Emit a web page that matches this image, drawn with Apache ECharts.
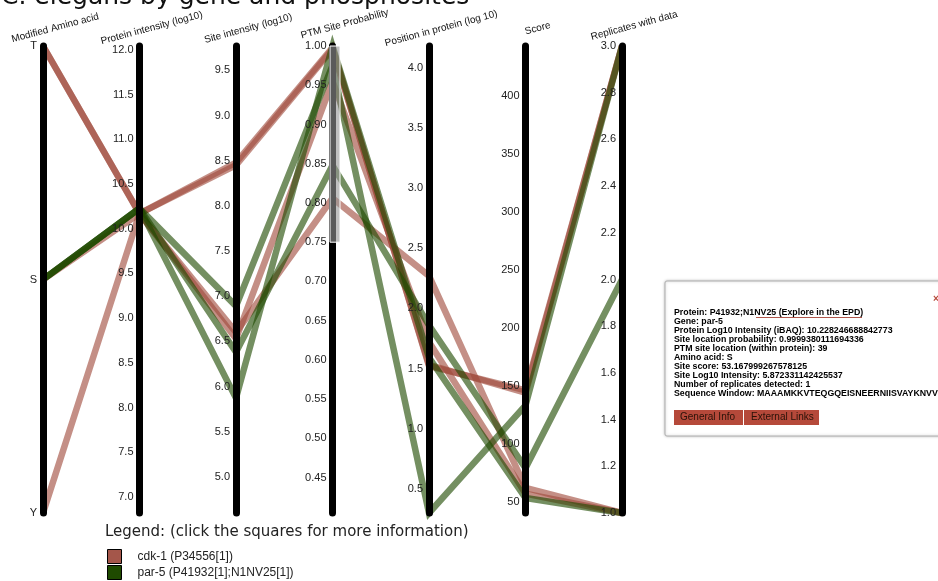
<!DOCTYPE html>
<html>
<head>
<meta charset="utf-8">
<script src="https://cdn.jsdelivr.net/npm/echarts@6/dist/echarts.min.js"></script>
<style>
  html, body { margin: 0; padding: 0; background: #fff; }
  #chart { width: 938px; height: 581px; }
</style>
</head>
<body>
<div id="chart"></div>
<script>
var dimNames = ['Modified Amino acid', 'Protein intensity (log10)', 'Site intensity (log10)',
  'PTM Site Probability', 'Position in protein (log 10)', 'Score', 'Replicates with data'];
var aminoAcids = ['Y', 'S', 'T'];
var seriesNames = ['cdk-1 (P34556[1])', 'par-5 (P41932[1];N1NV25[1])'];

// amino acid, protein int, site int, probability, position, score, replicates
var cdk1Sites = [
  ['T', 10.17, 8.48, 0.998, 1.52, 146, 3],
  ['T', 10.17, 8.45, 0.996, 1.53, 144, 3],
  ['S', 10.17, 6.53, 0.955, 1.72, 57, 1],
  ['Y', 10.17, 6.60, 0.806, 2.27, 62, 1]
];
var par5Sites = [
  ['S', 10.228, 5.872, 0.99994, 1.591, 53.17, 1],
  ['S', 10.228, 6.89, 0.975, 0.30, 133, 3],
  ['S', 10.228, 6.38, 0.848, 1.86, 79, 2]
];

var axisMin = [null, 6.82, 4.60, 0.405, 0.30, 40.3, 1];
var axisMax = [null, 12.045, 9.77, 1.0, 4.18, 442.8, 3];
var axisSplit = [null, 10, 10, 12, 8, 8, 10];
var axisDecimals = [0, 1, 1, 2, 1, 0, 1];
// brushed interval on the probability axis
var brushAxis = 3;
var brushRange = [0.75, 1.0];

var infoLines = [
  ['Protein: ', 'P41932;N1NV25', ' (Explore in the EPD)'],
  ['Gene: ', 'par-5'],
  ['Protein Log10 Intensity (iBAQ): ', '10.228246688842773'],
  ['Site location probability: ', '0.9999380111694336'],
  ['PTM site location (within protein): ', '39'],
  ['Amino acid: ', 'S'],
  ['Site score: ', '53.167999267578125'],
  ['Site Log10 Intensity: ', '5.872331142425537'],
  ['Number of replicates detected: ', '1'],
  ['Sequence Window: ', 'MAAAMKKVTEQGQEISNEERNIISVAYKNVVGSRRASWRIISS']
];

var plotLeft = 43, plotTop = 46, plotWidth = 579, plotHeight = 467;

var chart = echarts.init(document.getElementById('chart'));

var axes = dimNames.map(function (name, i) {
  var ax = {
    dim: i,
    name: name,
    nameLocation: 'end',
    nameGap: 9,
    nameRotate: 15,
    nameTruncate: { maxWidth: 300 },
    nameTextStyle: {
      fontSize: 10, color: '#111', fontFamily: 'Liberation Sans',
      align: 'center', verticalAlign: 'bottom', padding: [0, 0, 0, 28]
    },
    axisLine: { lineStyle: { color: '#000', width: 7 } },
    axisTick: { show: false },
    axisLabel: {
      fontSize: 11, color: '#222', fontFamily: 'Liberation Sans',
      margin: -6, align: 'right'
    }
  };
  if (i === 0) {
    ax.type = 'category';
    ax.data = aminoAcids;
    ax.boundaryGap = false;
  } else {
    ax.type = 'value';
    ax.min = axisMin[i];
    ax.max = axisMax[i];
    ax.splitNumber = axisSplit[i];
    ax.axisLabel.formatter = function (v) { return v.toFixed(axisDecimals[i]); };
    ax.axisLabel.showMinLabel = (i === 6);
    ax.axisLabel.showMaxLabel = (i === 3 || i === 6);
  }
  return ax;
});

// brush extent, mapped through the same axis range
function axisY(i, v) {
  return plotTop + plotHeight * (axisMax[i] - v) / (axisMax[i] - axisMin[i]);
}
var brushX = plotLeft + brushAxis * plotWidth / (dimNames.length - 1);
var brushTop = axisY(brushAxis, brushRange[1]);
var brushBottom = axisY(brushAxis, brushRange[0]);

var infoRich = {
  k: { fontSize: 8.8, fontWeight: 'bold', fontFamily: 'Liberation Sans', color: '#111', lineHeight: 9 },
  v: { fontSize: 8.8, fontWeight: 'bold', fontFamily: 'Liberation Sans', color: '#2f6b12', lineHeight: 9 },
  l: { fontSize: 8.8, fontWeight: 'bold', fontFamily: 'Liberation Sans', color: '#b0574c', lineHeight: 9 }
};
var infoText = infoLines.map(function (p) {
  var s = '{k|' + p[0] + '}{v|' + p[1] + '}';
  if (p[2]) s += '{l|' + p[2] + '}';
  return s;
}).join('\n');

var option = {
  animation: false,
  title: {
    text: 'C. elegans by gene and phosphosites',
    left: -4, top: -20,
    textStyle: { fontSize: 25, fontWeight: 'normal', fontFamily: 'DejaVu Sans', color: '#111' }
  },
  legend: {
    orient: 'vertical',
    left: 107, top: 549,
    padding: 0,
    itemWidth: 14, itemHeight: 14, itemGap: 1,
    icon: 'rect',
    selectedMode: false,
    textStyle: { fontSize: 12, lineHeight: 14, fontFamily: 'Liberation Sans', color: '#222', padding: [0, 0, 0, 11] },
    data: [
      { name: seriesNames[0], itemStyle: { color: '#a4564a', borderColor: '#000', borderWidth: 1, opacity: 1 } },
      { name: seriesNames[1], itemStyle: { color: '#1f4a00', borderColor: '#000', borderWidth: 1, opacity: 1 } }
    ]
  },
  parallel: {
    left: plotLeft, top: plotTop, width: plotWidth, height: plotHeight,
    layout: 'horizontal'
  },
  parallelAxis: axes,
  series: [
    {
      name: seriesNames[0], type: 'parallel',
      color: '#a04a3c',
      lineStyle: { width: 6.5, opacity: 0.62, color: '#a04a3c' },
      emphasis: { disabled: true },
      data: cdk1Sites
    },
    {
      name: seriesNames[1], type: 'parallel',
      color: '#1f4a00',
      lineStyle: { width: 6.5, opacity: 0.62, color: '#1f4a00' },
      emphasis: { disabled: true },
      data: par5Sites
    }
  ],
  graphic: [
    {
      type: 'rect', z: 50,
      shape: { x: brushX - 2.5, y: brushTop, width: 10, height: brushBottom - brushTop },
      style: { fill: 'rgba(150,150,150,0.6)', stroke: '#fff', lineWidth: 1 }
    },
    {
      type: 'text', x: 105, y: 525,
      style: { text: 'Legend: (click the squares for more information)', font: '15px "DejaVu Sans"', fill: '#222' }
    },
    {
      type: 'group', x: 665, y: 281,
      children: [
        { type: 'rect', shape: { x: 0, y: 0, width: 300, height: 155, r: 2 },
          style: { fill: '#fff', stroke: '#b0b0b0', lineWidth: 1, shadowBlur: 3, shadowColor: 'rgba(0,0,0,0.25)' } },
        { type: 'text', x: 268, y: 13, style: { text: '×', font: 'bold 10px "Liberation Sans"', fill: '#b5493a' } },
        { type: 'text', x: 9, y: 27, style: { text: infoText, rich: infoRich } },
        { type: 'line', shape: { x1: 91, y1: 36.5, x2: 197, y2: 36.5 }, style: { stroke: '#b0574c', lineWidth: 1 } },
        { type: 'rect', shape: { x: 9, y: 129, width: 69, height: 15 }, style: { fill: '#b5493a' } },
        { type: 'text', x: 15, y: 131, style: { text: 'General Info', font: '10px "Liberation Sans"', fill: '#2a1208' } },
        { type: 'rect', shape: { x: 79, y: 129, width: 75, height: 15 }, style: { fill: '#b5493a' } },
        { type: 'text', x: 86, y: 131, style: { text: 'External Links', font: '10px "Liberation Sans"', fill: '#2a1208' } }
      ]
    }
  ]
};

chart.setOption(option);
</script>
</body>
</html>
